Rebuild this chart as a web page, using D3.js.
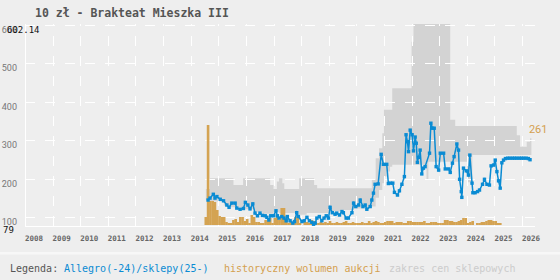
<!DOCTYPE html>
<html>
<head>
<meta charset="utf-8">
<script src="https://cdn.jsdelivr.net/npm/d3@7"></script>
<style>
  body { margin: 0; background: #eeeeee; }
  svg { display: block; }
</style>
</head>
<body>
<div id="chart"></div>
<script>
const title = "10 zł - Brakteat Mieszka III"
const years = d3.range(2008, 2027)
const yTicks = [100, 200, 300, 400, 500, 600]
const yMin = 79
const yMax = 602.14

// Allegro / shop prices (decimal year, zł)
const priceDates = [
  2014.63, 2014.70, 2014.82, 2014.88, 2014.95, 2015.07, 2015.19, 2015.31, 2015.39, 2015.49,
  2015.61, 2015.67, 2015.79, 2015.91, 2015.98, 2016.07, 2016.15, 2016.25, 2016.33, 2016.42,
  2016.51, 2016.60, 2016.70, 2016.76, 2016.83, 2016.90, 2017.00, 2017.09, 2017.14, 2017.20,
  2017.30, 2017.38, 2017.46, 2017.50, 2017.60, 2017.70, 2017.76, 2017.84, 2017.90, 2018.03,
  2018.11, 2018.21, 2018.30, 2018.39, 2018.45, 2018.51, 2018.57, 2018.66, 2018.75, 2018.83,
  2018.91, 2018.99, 2019.05, 2019.13, 2019.23, 2019.29, 2019.39, 2019.48, 2019.53, 2019.63,
  2019.71, 2019.84, 2019.90, 2019.98, 2020.08, 2020.14, 2020.24, 2020.32, 2020.38, 2020.50,
  2020.56, 2020.62, 2020.68, 2020.79, 2020.90, 2020.98, 2021.10, 2021.16, 2021.24, 2021.32,
  2021.38, 2021.49, 2021.56, 2021.65, 2021.74, 2021.80, 2021.85, 2021.89, 2021.95, 2022.02,
  2022.07, 2022.13, 2022.17, 2022.21, 2022.25, 2022.31, 2022.37, 2022.43, 2022.49, 2022.65,
  2022.70, 2022.76, 2022.82, 2022.89, 2022.98, 2023.04, 2023.16, 2023.22, 2023.34, 2023.40,
  2023.48, 2023.54, 2023.64, 2023.70, 2023.74, 2023.80, 2023.82, 2023.88, 2023.98, 2024.06,
  2024.11, 2024.19, 2024.22, 2024.30, 2024.39, 2024.46, 2024.57, 2024.64, 2024.73, 2024.82,
  2024.88, 2024.97, 2025.03, 2025.09, 2025.15, 2025.21, 2025.27, 2025.33, 2025.40, 2025.48,
  2025.56, 2025.65, 2025.73, 2025.81, 2025.90, 2025.98, 2026.06, 2026.15, 2026.23, 2026.29
]
const prices = [
  144, 149, 159, 149, 153, 146, 142, 131, 125, 136,
  136, 123, 120, 122, 138, 131, 121, 134, 110, 103,
  110, 104, 103, 99, 92, 103, 103, 116, 103, 97,
  101, 97, 90, 101, 90, 84, 88, 111, 101, 88,
  90, 99, 90, 86, 81, 84, 97, 101, 90, 97,
  103, 97, 125, 111, 107, 110, 105, 114, 111, 97,
  97, 111, 136, 127, 131, 144, 127, 131, 120, 127,
  144, 162, 185, 186, 263, 237, 237, 187, 188, 188,
  164, 157, 168, 185, 205, 314, 296, 270, 326, 314,
  272, 308, 292, 242, 255, 274, 212, 227, 231, 266,
  344, 331, 331, 231, 222, 266, 266, 225, 225, 216,
  240, 257, 290, 274, 198, 166, 151, 227, 220, 209,
  261, 188, 163, 163, 166, 170, 185, 198, 185, 183,
  233, 235, 248, 218, 194, 175, 241, 248, 252, 253,
  253, 253, 253, 253, 253, 253, 253, 253, 252, 249
]

// monthly auction volume, first month = July 2014
const volStart = 2014.5
const volumes = [
  8, 100, 24, 24, 23, 15, 9, 8, 8, 3, 2, 2,
  5, 6, 3, 8, 8, 4, 6, 2, 10, 8, 3, 3,
  2, 2, 5, 4, 7, 2, 7, 10, 5, 17, 17, 7,
  2, 3, 3, 8, 10, 2, 0, 3, 3, 2, 5, 4,
  2, 2, 3, 2, 3, 2, 4, 2, 2, 3, 2, 2,
  3, 4, 2, 2, 3, 2, 2, 2, 3, 2, 2, 4,
  2, 3, 4, 3, 2, 2, 3, 4, 4, 4, 2, 3,
  3, 3, 2, 2, 4, 4, 3, 3, 3, 3, 3, 4,
  2, 2, 3, 3, 3, 2, 2, 2, 5, 5, 4, 4,
  3, 3, 4, 5, 7, 7, 2, 3, 4, 0, 2, 2,
  3, 3, 4, 5, 5, 4, 4, 2, 2
]
const volMax = 100

// shop price range (step after each date)
const bandDates = [
  2014.55, 2014.70, 2015.20, 2015.45, 2015.55, 2015.90, 2016.30, 2016.60, 2016.88, 2017.00,
  2017.12, 2017.20, 2017.32, 2017.39, 2017.80, 2017.93, 2018.20, 2018.47, 2018.58, 2019.00,
  2019.50, 2019.90, 2020.30, 2020.56, 2020.70, 2020.82, 2020.94, 2021.00, 2021.10, 2021.22,
  2021.30, 2022.00, 2022.07, 2022.45, 2022.54, 2022.61, 2023.40, 2023.58, 2024.02, 2024.20,
  2025.81, 2025.93, 2026.17, 2026.29, 2026.34
]
const bandLow = [
  144, 140, 130, 125, 125, 120, 112, 108, 108, 112,
  112, 110, 110, 110, 106, 106, 110, 110, 110, 115,
  118, 122, 124, 127, 150, 170, 188, 205, 218, 231,
  236, 236, 236, 231, 196, 244, 244, 244, 190, 261,
  261, 261, 261, 261, 261
]
const bandHigh = [
  173, 201, 201, 201, 183, 201, 201, 201, 183, 173,
  192, 201, 188, 173, 173, 201, 201, 183, 175, 175,
  175, 175, 175, 196, 253, 279, 318, 379, 379, 379,
  435, 556, 602.14, 602.14, 602.14, 602.14, 353, 337, 337, 337,
  313, 283, 296, 305, 305
]
const lastLabel = "261"

const legendItems = [
  { text: "Legenda:", color: "#555555", x: 10 },
  { text: "Allegro(-24)/sklepy(25-)", color: "#0a8bd3", x: 64 },
  { text: "historyczny wolumen aukcji", color: "#d4a04e", x: 224 },
  { text: "zakres cen sklepowych", color: "#cccccc", x: 389 }
]

const width = 560
const height = 280
const plot = { left: 25, right: 535, top: 24.1, bottom: 225 }

const svg = d3.select("#chart")
  .append("svg")
  .attr("width", width)
  .attr("height", height)

svg.append("rect")
  .attr("width", width).attr("height", height)
  .attr("fill", "#eeeeee")

// light separator above the legend
svg.append("rect")
  .attr("x", 0).attr("y", 252)
  .attr("width", width).attr("height", 2.5)
  .attr("fill", "#f7f7f7")

const x = d3.scaleLinear().domain([2008, 2026.47]).range([plot.left, plot.right])
const y = d3.scaleLinear().domain([yMin, yMax]).range([plot.bottom, plot.top])
const yVol = d3.scaleLinear().domain([0, volMax]).range([plot.bottom, plot.bottom - 100])

// band
const band = bandDates.map((t, i) => ({ t: t, lo: bandLow[i], hi: bandHigh[i] }))
svg.append("path")
  .datum(band)
  .attr("fill", "#d3d3d3")
  .attr("d", d3.area()
    .x(d => x(d.t))
    .y0(d => y(d.lo))
    .y1(d => y(d.hi))
    .curve(d3.curveStepAfter))

// grid
const grid = svg.append("g").attr("stroke", "#ffffff").attr("stroke-width", 1)
grid.selectAll(".hgrid")
  .data(yTicks)
  .enter().append("line")
  .attr("x1", plot.left).attr("x2", plot.right)
  .attr("y1", d => Math.round(y(d)) + 0.5)
  .attr("y2", d => Math.round(y(d)) + 0.5)
  .attr("stroke-dasharray", "10,10")
grid.selectAll(".vgrid")
  .data(years.slice(1))
  .enter().append("line")
  .attr("x1", d => Math.round(x(d)) + 0.5)
  .attr("x2", d => Math.round(x(d)) + 0.5)
  .attr("y1", plot.bottom + 1).attr("y2", plot.top)
  .attr("stroke-dasharray", "10,10")

// axes lines
svg.append("line")
  .attr("x1", plot.left + 0.5).attr("x2", plot.left + 0.5)
  .attr("y1", plot.top).attr("y2", 227)
  .attr("stroke", "#ffffff")
svg.append("line")
  .attr("x1", plot.left).attr("x2", plot.right)
  .attr("y1", 226.5).attr("y2", 226.5)
  .attr("stroke", "#ffffff")

// volume bars
const vols = volumes.map((v, i) => ({ t: volStart + i / 12, v: v }))
svg.append("g")
  .selectAll("rect")
  .data(vols.filter(d => d.v > 0))
  .enter().append("rect")
  .attr("x", d => x(d.t))
  .attr("width", d => x(d.t + 1 / 12) - x(d.t) + 0.3)
  .attr("y", d => yVol(d.v))
  .attr("height", d => yVol(0) - yVol(d.v))
  .attr("fill", "#d4a352")

// price line
const pts = priceDates.map((t, i) => ({ t: t, v: prices[i] }))
svg.append("path")
  .datum(pts)
  .attr("fill", "none")
  .attr("stroke", "#0a8bd3")
  .attr("stroke-width", 1.5)
  .attr("d", d3.line().x(d => x(d.t)).y(d => y(d.v)))
const sq = 3.4
svg.append("g")
  .selectAll("rect")
  .data(pts)
  .enter().append("rect")
  .attr("x", d => x(d.t) - sq / 2)
  .attr("y", d => y(d.v) - sq / 2)
  .attr("width", sq).attr("height", sq)
  .attr("fill", "#0a8bd3")

// y tick labels
svg.append("g")
  .selectAll("text")
  .data(yTicks)
  .enter().append("text")
  .attr("x", 17)
  .attr("y", d => y(d) + 8)
  .attr("text-anchor", "end")
  .attr("font-family", "Roboto, sans-serif")
  .attr("font-size", 9)
  .attr("fill", "#777777")
  .text(d => d)

// min / max labels
svg.append("text")
  .attr("x", 7).attr("y", y(yMax) + 9)
  .attr("font-family", "DejaVu Sans Mono, monospace")
  .attr("font-size", 9)
  .attr("fill", "#111111")
  .text(yMax)
svg.append("text")
  .attr("x", 3).attr("y", y(yMin) + 8)
  .attr("font-family", "DejaVu Sans Mono, monospace")
  .attr("font-size", 9)
  .attr("fill", "#111111")
  .text(yMin)

// x tick labels
svg.append("g")
  .selectAll("text")
  .data(years)
  .enter().append("text")
  .attr("x", d => x(d))
  .attr("y", 240.5)
  .attr("font-family", "DejaVu Sans Mono, monospace")
  .attr("font-weight", "bold")
  .attr("font-size", 7.5)
  .attr("fill", "#666666")
  .text(d => d)

// last value label
svg.append("text")
  .attr("x", x(bandDates[bandDates.length - 1]) - 2.5)
  .attr("y", y(337) + 7.5)
  .attr("font-family", "Roboto, sans-serif")
  .attr("font-size", 11)
  .attr("fill", "#d4a04e")
  .text(lastLabel)

// title
svg.append("text")
  .attr("x", 35).attr("y", 16.5)
  .attr("font-family", "DejaVu Sans Mono, monospace")
  .attr("font-weight", "bold")
  .attr("font-size", 11.5)
  .attr("fill", "#555555")
  .text(title)

// legend
svg.append("g")
  .selectAll("text")
  .data(legendItems)
  .enter().append("text")
  .attr("x", d => d.x)
  .attr("y", 271.5)
  .attr("font-family", "DejaVu Sans Mono, monospace")
  .attr("font-size", 10)
  .attr("fill", d => d.color)
  .text(d => d.text)
</script>
</body>
</html>
